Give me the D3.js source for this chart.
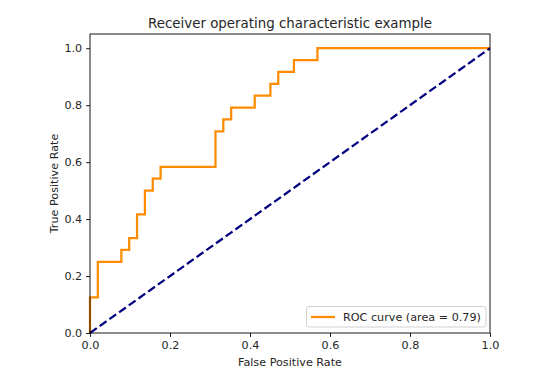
<!DOCTYPE html>
<html><head><meta charset="utf-8">
<script src="https://cdn.jsdelivr.net/npm/d3@7/dist/d3.min.js"></script>
<style>body{margin:0;background:#fff}svg{display:block}text{font-family:"DejaVu Sans",sans-serif;fill:#262626}</style>
</head><body><div id="chart"></div>
<script>
const fpr = [0, 0, 0.0196, 0.0196, 0.0784, 0.0784, 0.098, 0.098, 0.1176, 0.1176, 0.1373, 0.1373, 0.1569, 0.1569, 0.1765, 0.1765, 0.3137, 0.3137, 0.3333, 0.3333, 0.3529, 0.3529, 0.4118, 0.4118, 0.451, 0.451, 0.4706, 0.4706, 0.5098, 0.5098, 0.5686, 0.5686, 1.0];
const tpr = [0, 0.125, 0.125, 0.25, 0.25, 0.2917, 0.2917, 0.3333, 0.3333, 0.4167, 0.4167, 0.5, 0.5, 0.5417, 0.5417, 0.5833, 0.5833, 0.7083, 0.7083, 0.75, 0.75, 0.7917, 0.7917, 0.8333, 0.8333, 0.875, 0.875, 0.9167, 0.9167, 0.9583, 0.9583, 1.0, 1.0];
const chanceX = [0, 1];
const chanceY = [0, 1];
const ticks = [0.0, 0.2, 0.4, 0.6, 0.8, 1.0];
const rocLabel = "ROC curve (area = 0.79)";
const title = "Receiver operating characteristic example";
const xLabel = "False Positive Rate";
const yLabel = "True Positive Rate";

const W = 550, H = 381;
const svg = d3.select("#chart").append("svg").attr("width", W).attr("height", H);
const x = d3.scaleLinear().domain([0, 1]).range([90, 490]);
const y = d3.scaleLinear().domain([0, 1.05]).range([333, 34]);

const fs = 11.2;
const line = d3.line().x(d => x(d[0])).y(d => y(d[1]));

svg.append("path").datum(fpr.map((v, i) => [v, tpr[i]]))
  .attr("d", line).attr("fill", "none").attr("stroke", "darkorange")
  .attr("stroke-width", 2.24).attr("stroke-linejoin", "miter").attr("stroke-linecap", "butt");

svg.append("path").datum(chanceX.map((v, i) => [v, chanceY[i]]))
  .attr("d", line).attr("fill", "none").attr("stroke", "navy")
  .attr("stroke-width", 2.24).attr("stroke-dasharray", "8.3,3.6");

// axes
const xAxis = d3.axisBottom(x).tickValues(ticks).tickFormat(d3.format(".1f")).tickSizeOuter(0).tickSize(3.9).tickPadding(3.9);
const yAxis = d3.axisLeft(y).tickValues(ticks).tickFormat(d3.format(".1f")).tickSizeOuter(0).tickSize(3.9).tickPadding(3.9);
const gx = svg.append("g").attr("transform", `translate(0,${y(0)})`).call(xAxis);
const gy = svg.append("g").attr("transform", `translate(${x(0)},0)`).call(yAxis);
[gx, gy].forEach(g => {
  g.select(".domain").remove();
  g.selectAll(".tick line").attr("stroke", "#000").attr("stroke-width", 0.9);
  g.selectAll(".tick text").attr("font-family", "DejaVu Sans").attr("font-size", fs).attr("fill", "#262626");
});
gx.selectAll(".tick text").attr("dy", "0.76em");

// spines
svg.append("rect").attr("x", x(0)).attr("y", y(1.05)).attr("width", x(1) - x(0)).attr("height", y(0) - y(1.05))
  .attr("fill", "none").attr("stroke", "#000").attr("stroke-width", 0.9);

svg.append("text").attr("x", (x(0) + x(1)) / 2).attr("y", 27.5).attr("text-anchor", "middle")
  .attr("font-size", 13.4).text(title);
svg.append("text").attr("x", (x(0) + x(1)) / 2).attr("y", 365.5).attr("text-anchor", "middle")
  .attr("font-size", fs).text(xLabel);
svg.append("text").attr("transform", `translate(57.5,${(y(0) + y(1.05)) / 2}) rotate(-90)`).attr("text-anchor", "middle")
  .attr("font-size", fs).text(yLabel);

// legend
const lg = svg.append("g");
lg.append("rect").attr("x", 306.5).attr("y", 306.5).attr("width", 179.5).attr("height", 20.5).attr("rx", 2.5)
  .attr("fill", "#fff").attr("fill-opacity", 0.8).attr("stroke", "#ccc").attr("stroke-width", 0.9);
lg.append("line").attr("x1", 311).attr("x2", 335).attr("y1", 317).attr("y2", 317)
  .attr("stroke", "darkorange").attr("stroke-width", 2.24);
lg.append("text").attr("x", 343).attr("y", 321).attr("font-size", fs).text(rocLabel);
</script></body></html>
